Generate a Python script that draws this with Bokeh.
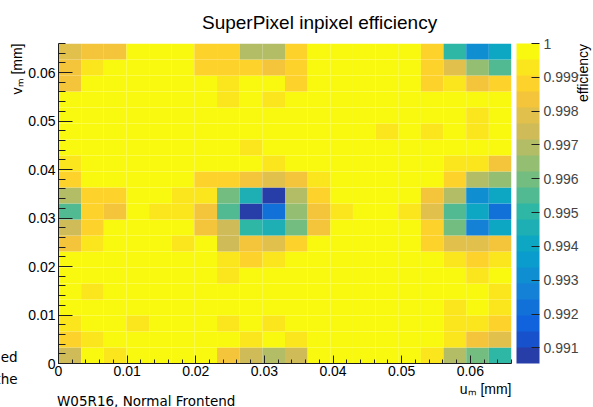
import numpy as np
from bokeh.plotting import figure
from bokeh.models import (ColumnDataSource, LinearColorMapper, ColorBar, FixedTicker,
                          SingleIntervalTicker, Label, Range1d, Title)
from bokeh.embed import file_html
from bokeh.resources import INLINE

# ---------------- texts ----------------
title_text = "SuperPixel inpixel efficiency"
x_label = "u\u2098 [mm]"
y_label = "v\u2098 [mm]"
z_label = "efficiency"
note_text = "W05R16, Normal Frontend"
clip_text_1 = "ed"
clip_text_2 = "the"

# ---------------- binning / ranges ----------------
u_min, u_max, n_u = 0.0, 0.066, 20
v_min, v_max, n_v = 0.0, 0.066, 20
z_min, z_max, n_levels = 0.99054, 1.0, 20

cbar_ticks = [0.991, 0.992, 0.993, 0.994, 0.995, 0.996, 0.997, 0.998, 0.999, 1.0]
cbar_labels = ["0.991", "0.992", "0.993", "0.994", "0.995", "0.996", "0.997", "0.998", "0.999", "1"]

# ---------------- efficiency per bin (rows from v bin 0 at the bottom) ----------------
eff_v00 = [0.9974, 1.0, 0.9993, 1.0, 1.0, 1.0, 1.0, 0.9983, 0.9974, 0.9969,
           0.9974, 1.0, 1.0, 1.0, 1.0, 1.0, 0.9993, 0.9969, 0.9960, 0.9950]
eff_v01 = [0.9988, 0.9993, 1.0, 1.0, 1.0, 1.0, 1.0, 1.0, 0.9993, 1.0,
           0.9993, 1.0, 1.0, 1.0, 1.0, 1.0, 1.0, 0.9993, 0.9983, 0.9979]
eff_v02 = [0.9993, 1.0, 1.0, 0.9993, 1.0, 1.0, 1.0, 0.9993, 1.0, 0.9993,
           1.0, 1.0, 1.0, 1.0, 1.0, 1.0, 1.0, 0.9993, 0.9993, 0.9988]
eff_v03 = [1.0, 1.0, 1.0, 1.0, 1.0, 1.0, 1.0, 1.0, 1.0, 1.0,
           1.0, 1.0, 1.0, 1.0, 1.0, 1.0, 1.0, 0.9993, 1.0, 0.9993]
eff_v04 = [1.0, 0.9993, 1.0, 1.0, 1.0, 1.0, 1.0, 1.0, 1.0, 1.0,
           1.0, 1.0, 1.0, 1.0, 1.0, 1.0, 1.0, 1.0, 1.0, 0.9993]
eff_v05 = [1.0, 1.0, 1.0, 1.0, 1.0, 1.0, 1.0, 0.9993, 1.0, 1.0,
           1.0, 1.0, 1.0, 1.0, 1.0, 1.0, 1.0, 1.0, 0.9993, 1.0]
eff_v06 = [1.0, 1.0, 1.0, 1.0, 1.0, 1.0, 1.0, 0.9993, 0.9988, 0.9993,
           1.0, 1.0, 1.0, 1.0, 1.0, 1.0, 1.0, 0.9993, 0.9988, 0.9993]
eff_v07 = [0.9983, 0.9993, 1.0, 1.0, 1.0, 0.9993, 1.0, 0.9974, 0.9983, 0.9979,
           0.9988, 1.0, 1.0, 1.0, 1.0, 1.0, 0.9988, 0.9979, 0.9979, 0.9983]
eff_v08 = [0.9974, 0.9988, 1.0, 1.0, 1.0, 1.0, 0.9983, 0.9974, 0.9950, 0.9946,
           0.9960, 0.9983, 1.0, 1.0, 1.0, 1.0, 0.9988, 0.9960, 0.9927, 0.9941]
eff_v09 = [0.9955, 0.9988, 0.9983, 1.0, 0.9993, 0.9993, 0.9983, 0.9955, 0.9907, 0.9922,
           0.9965, 0.9983, 0.9993, 1.0, 1.0, 0.9993, 0.9979, 0.9955, 0.9941, 0.9922]
eff_v10 = [0.9969, 0.9988, 0.9988, 1.0, 1.0, 0.9993, 0.9993, 0.9960, 0.9946, 0.9906,
           0.9969, 0.9988, 1.0, 1.0, 1.0, 1.0, 0.9983, 0.9969, 0.9931, 0.9941]
eff_v11 = [0.9988, 1.0, 1.0, 1.0, 1.0, 1.0, 0.9988, 0.9988, 0.9983, 0.9979,
           0.9983, 0.9993, 1.0, 1.0, 1.0, 1.0, 1.0, 0.9988, 0.9969, 0.9965]
eff_v12 = [0.9993, 1.0, 1.0, 1.0, 1.0, 1.0, 1.0, 1.0, 1.0, 0.9993,
           1.0, 1.0, 1.0, 1.0, 1.0, 1.0, 1.0, 0.9993, 0.9993, 0.9983]
eff_v13 = [1.0, 1.0, 1.0, 1.0, 1.0, 1.0, 1.0, 1.0, 0.9993, 1.0,
           1.0, 1.0, 1.0, 1.0, 1.0, 1.0, 1.0, 1.0, 1.0, 1.0]
eff_v14 = [1.0, 1.0, 1.0, 1.0, 1.0, 1.0, 1.0, 1.0, 1.0, 1.0,
           1.0, 1.0, 1.0, 1.0, 0.9993, 1.0, 0.9993, 1.0, 0.9993, 1.0]
eff_v15 = [1.0, 1.0, 1.0, 1.0, 1.0, 1.0, 1.0, 1.0, 1.0, 1.0,
           1.0, 1.0, 1.0, 1.0, 1.0, 1.0, 1.0, 1.0, 0.9993, 1.0]
eff_v16 = [1.0, 1.0, 1.0, 1.0, 1.0, 1.0, 1.0, 0.9993, 1.0, 0.9993,
           1.0, 1.0, 1.0, 1.0, 1.0, 1.0, 1.0, 1.0, 1.0, 1.0]
eff_v17 = [0.9983, 1.0, 1.0, 1.0, 1.0, 1.0, 1.0, 0.9993, 1.0, 1.0,
           0.9988, 1.0, 1.0, 1.0, 1.0, 1.0, 0.9988, 0.9993, 0.9983, 0.9988]
eff_v18 = [0.9983, 0.9993, 1.0, 1.0, 1.0, 1.0, 0.9988, 0.9988, 0.9988, 0.9983,
           0.9988, 1.0, 1.0, 1.0, 1.0, 1.0, 0.9988, 0.9979, 0.9965, 0.9955]
eff_v19 = [0.9979, 0.9983, 0.9983, 1.0, 1.0, 1.0, 0.9988, 0.9988, 0.9969, 0.9969,
           0.9988, 1.0, 1.0, 1.0, 1.0, 1.0, 0.9988, 0.9950, 0.9931, 0.9941]

rows = [eff_v00, eff_v01, eff_v02, eff_v03, eff_v04, eff_v05, eff_v06, eff_v07,
        eff_v08, eff_v09, eff_v10, eff_v11, eff_v12, eff_v13, eff_v14, eff_v15,
        eff_v16, eff_v17, eff_v18, eff_v19]

# ---------------- ROOT kBird palette, 20 contour levels ----------------
bird_stops = [0.0, 0.125, 0.25, 0.375, 0.5, 0.625, 0.75, 0.875, 1.0]
bird_r = [0.2082, 0.0592, 0.0780, 0.0232, 0.1802, 0.5301, 0.8186, 0.9956, 0.9764]
bird_g = [0.1664, 0.3599, 0.5041, 0.6419, 0.7178, 0.7492, 0.7328, 0.7862, 0.9832]
bird_b = [0.5293, 0.8684, 0.8385, 0.7914, 0.6425, 0.4662, 0.3499, 0.1968, 0.0539]
palette = []
for lev in range(n_levels):
    t = int((lev + 0.99) * 255 / n_levels) / 255.0
    r = np.interp(t, bird_stops, bird_r)
    g = np.interp(t, bird_stops, bird_g)
    b = np.interp(t, bird_stops, bird_b)
    palette.append("#%02x%02x%02x" % (int(round(r * 255)), int(round(g * 255)), int(round(b * 255))))

du = (u_max - u_min) / n_u
dv = (v_max - v_min) / n_v
us, vs, zs = [], [], []
for j, row in enumerate(rows):
    for i, z in enumerate(row):
        us.append(u_min + (i + 0.5) * du)
        vs.append(v_min + (j + 0.5) * dv)
        zs.append(z)
src = ColumnDataSource(dict(u=us, v=vs, z=zs))

FONT = "Liberation Sans"
NOTE_FONT = "DejaVu Sans"
DARK = "#1e1e1e"

p = figure(frame_width=453, frame_height=320,
           x_range=Range1d(u_min, u_max), y_range=Range1d(v_min, v_max),
           output_backend="svg", toolbar_location=None,
           min_border_left=58, min_border_right=82, min_border_top=43, min_border_bottom=44)
p.grid.visible = False
p.outline_line_color = None
p.background_fill_color = "white"
p.border_fill_color = "white"
p.title.visible = False

mapper = LinearColorMapper(palette=palette, low=z_min, high=z_max)
p.rect(x="u", y="v", width=du, height=dv, source=src,
       fill_color={"field": "z", "transform": mapper}, line_color=None)

for ax in (p.xaxis[0], p.yaxis[0]):
    ax.ticker = SingleIntervalTicker(interval=0.01, num_minor_ticks=5)
    ax.major_label_overrides = {0: "0"}
    ax.axis_line_color = DARK
    ax.major_tick_line_color = DARK
    ax.minor_tick_line_color = DARK
    ax.major_tick_out = 0
    ax.minor_tick_out = 0
    ax.major_label_text_font = FONT
    ax.major_label_text_font_size = "14px"
    ax.major_label_text_color = "black"

p.xaxis.major_tick_in = 8
p.xaxis.minor_tick_in = 4
p.xaxis.major_label_standoff = 2
p.yaxis.major_tick_in = 14
p.yaxis.minor_tick_in = 7
p.yaxis.major_label_standoff = 3

cb = ColorBar(color_mapper=mapper, ticker=FixedTicker(ticks=cbar_ticks),
              major_label_overrides={t: s for t, s in zip(cbar_ticks, cbar_labels)},
              width=23, height=320, padding=5, margin=0, location="center_left",
              major_tick_in=8, major_tick_out=0, major_tick_line_color=DARK,
              minor_tick_line_color=None, label_standoff=4,
              major_label_text_font=FONT, major_label_text_font_size="14px",
              bar_line_color=None, border_line_color=None, background_fill_color=None)
p.add_layout(cb, "right")

# ---------------- titles in the side panels ----------------
p.add_layout(Title(text=y_label, align="right", standoff=1, text_font=FONT,
                   text_font_size="14px", text_font_style="normal", text_color="black"), "left")
p.add_layout(Title(text=x_label, align="right", standoff=0, text_font=FONT,
                   text_font_size="14px", text_font_style="normal", text_color="black"), "below")
p.add_layout(Title(text=note_text, align="left", offset=-1.5, standoff=-12, text_font=NOTE_FONT,
                   text_font_size="13.5px", text_font_style="normal", text_color="black"), "below")

# ---------------- free texts in side panels (screen units relative to their slot) ----------------
def add_text(side, x, y, text, size, font=FONT, align="left", angle=0.0):
    p.add_layout(Label(x=x, y=y, x_units="screen", y_units="screen", text=text, angle=angle,
                       text_align=align, text_baseline="alphabetic",
                       text_font=font, text_font_size=size, text_color="black"), side)

add_text("above", 143.5, 21, title_text, "19px")
add_text("below", -41, 62, clip_text_1, "13.5px", font=NOTE_FONT, align="right")
add_text("below", -41, 56, clip_text_2, "13.5px", font=NOTE_FONT, align="right")
add_text("below", 524.5, 448.5, z_label, "14px", align="right", angle=np.pi / 2)

open("out.html", "w").write(file_html(p, INLINE))
